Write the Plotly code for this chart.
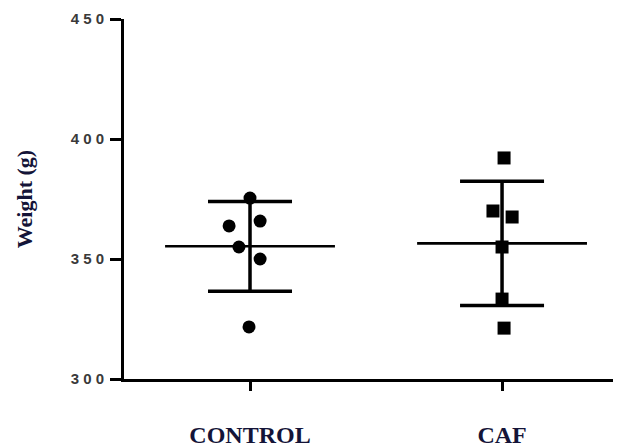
import numpy as np
import plotly.graph_objects as go

categories = ["CONTROL", "CAF"]
control_values = [375.4, 363.8, 365.8, 355.0, 350.0, 321.7]
control_jitter = [0.0, -0.083, 0.04, -0.044, 0.04, -0.004]
caf_values = [392.1, 370.0, 367.5, 355.0, 333.3, 321.2]
caf_jitter = [0.008, -0.036, 0.04, 0.0, 0.0, 0.008]
y_ticks = [300, 350, 400, 450]
y_tick_labels = ["3\u00a00\u00a00", "3\u00a05\u00a00", "4\u00a00\u00a00", "4\u00a05\u00a00"]

groups = [
    (control_values, control_jitter, "circle"),
    (caf_values, caf_jitter, "square"),
]

fig = go.Figure()
for i, (vals, jit, sym) in enumerate(groups):
    v = np.array(vals)
    m = float(v.mean())
    sd = float(v.std(ddof=1))
    # mean line
    fig.add_trace(go.Scatter(
        x=[i - 0.337, i + 0.337], y=[m, m], mode="lines",
        line=dict(color="black", width=2.6), showlegend=False, hoverinfo="skip"))
    # SD error bar
    fig.add_trace(go.Scatter(
        x=[i], y=[m], mode="markers", marker=dict(size=1, color="rgba(0,0,0,0)"),
        error_y=dict(type="data", array=[sd], visible=True, color="black",
                     thickness=3.5, width=42),
        showlegend=False, hoverinfo="skip"))
    # points
    fig.add_trace(go.Scatter(
        x=[i + j for j in jit], y=vals, mode="markers",
        marker=dict(symbol=sym, size=13, color="black"),
        showlegend=False))

# page body has an 8px margin; figure size/margins compensate for it
fig.update_layout(
    width=613, height=439,
    margin=dict(l=116, r=0, t=11, b=68),
    paper_bgcolor="white", plot_bgcolor="white",
    showlegend=False,
)
fig.update_xaxes(
    range=[-0.5, 1.472], automargin=False,
    tickmode="array", tickvals=[0, 1], ticktext=categories,
    showline=True, linecolor="black", linewidth=3,
    ticks="outside", ticklen=9, tickwidth=3, tickcolor="black",
    showgrid=False, zeroline=False,
    tickfont=dict(family="Liberation Serif", size=24, color="#141438", weight="bold"),
    ticklabelstandoff=23,
)
fig.update_yaxes(
    range=[300, 450], automargin=False,
    tickmode="array", tickvals=y_ticks, ticktext=y_tick_labels,
    showline=True, linecolor="black", linewidth=3,
    ticks="outside", ticklen=11, tickwidth=3, tickcolor="black",
    showgrid=False, zeroline=False,
    tickfont=dict(family="Liberation Sans", size=15, color="#3a3a3a", weight="bold"),
    ticklabelstandoff=3,
    title=dict(text="<b>Weight (g)</b>", standoff=32,
               font=dict(family="Liberation Serif", size=22, color="#141438")),
)

fig.write_html(
    "out.html",
    post_script="document.documentElement.style.overflow='hidden';"
                "document.body.style.overflow='hidden';",
)
